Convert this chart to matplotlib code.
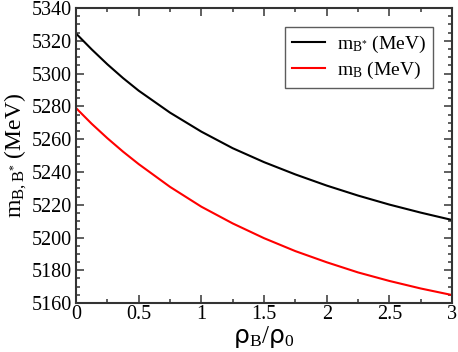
import numpy as np
import matplotlib
matplotlib.use("Agg")
import matplotlib.pyplot as plt
from matplotlib.ticker import MultipleLocator, FuncFormatter

plt.rcParams['font.family'] = ['Liberation Serif', 'DejaVu Serif']
plt.rcParams['mathtext.fontset'] = 'custom'
plt.rcParams['mathtext.rm'] = 'Liberation Serif'
plt.rcParams['mathtext.it'] = 'Liberation Serif:italic'
plt.rcParams['mathtext.sf'] = 'DejaVu Sans'

# density ratio rho_B / rho_0
rho = [0, 0.125, 0.25, 0.375, 0.5, 0.75, 1.0, 1.25, 1.5, 1.75, 2.0, 2.25,
       2.5, 2.75, 3.0]
# B* meson mass (MeV)
m_bstar = [5324.5, 5314.8, 5305.7, 5297.3, 5289.6, 5276.2, 5264.6, 5254.5,
           5246, 5238.5, 5231.7, 5225.6, 5220.1, 5215.2, 5210.7]
# B meson mass (MeV)
m_b = [5279, 5269.4, 5260.6, 5252.4, 5244.8, 5230.9, 5218.8, 5208.6,
       5199.6, 5191.7, 5184.9, 5178.7, 5173.5, 5168.9, 5164.9]

fig = plt.figure(figsize=(4.58, 3.52), dpi=100)
ax = fig.add_axes([0.166, 0.139, 0.821, 0.838])

ax.plot(rho, m_bstar, color='black', lw=1.5, label=r'$\mathrm{m}_{\mathrm{B}^{*}}$ (MeV)')
ax.plot(rho, m_b, color='red', lw=1.5, label=r'$\mathrm{m}_{\mathrm{B}}$ (MeV)')

ax.set_xlim(0, 3)
ax.set_ylim(5160, 5340)
ax.xaxis.set_major_locator(MultipleLocator(0.5))
ax.xaxis.set_minor_locator(MultipleLocator(0.25))
ax.yaxis.set_major_locator(MultipleLocator(20))
ax.yaxis.set_minor_locator(MultipleLocator(5))
ax.xaxis.set_major_formatter(FuncFormatter(lambda v, p: '%g' % v))

ax.tick_params(which='both', direction='in', top=True, right=True,
               labelsize=14.5, width=1.2, color='#444444')
ax.tick_params(which='major', length=6)
ax.tick_params(axis='x', which='major', pad=1.5)
ax.tick_params(axis='y', which='major', pad=3)
ax.tick_params(which='minor', length=3)
for s in ax.spines.values():
    s.set_linewidth(1.5)
    s.set_color('#333333')

ax.set_xlabel(r'$\mathsf{\rho}_\mathrm{B}/\mathsf{\rho}_\mathrm{0}$', fontsize=18, labelpad=0)
ax.set_ylabel(r'$\mathrm{m}_{\mathrm{B,B}^{*}}$ (MeV)', fontsize=17, labelpad=2)

leg = ax.legend(loc='upper right', bbox_to_anchor=(0.949, 0.936), fontsize=14,
                frameon=True, fancybox=False, handlelength=1.7, borderaxespad=0,
                borderpad=0.35, labelspacing=0.25, handletextpad=0.6)
leg.get_frame().set_edgecolor('#333333')
leg.get_frame().set_linewidth(1.0)

fig.savefig('out.png', dpi=100)
